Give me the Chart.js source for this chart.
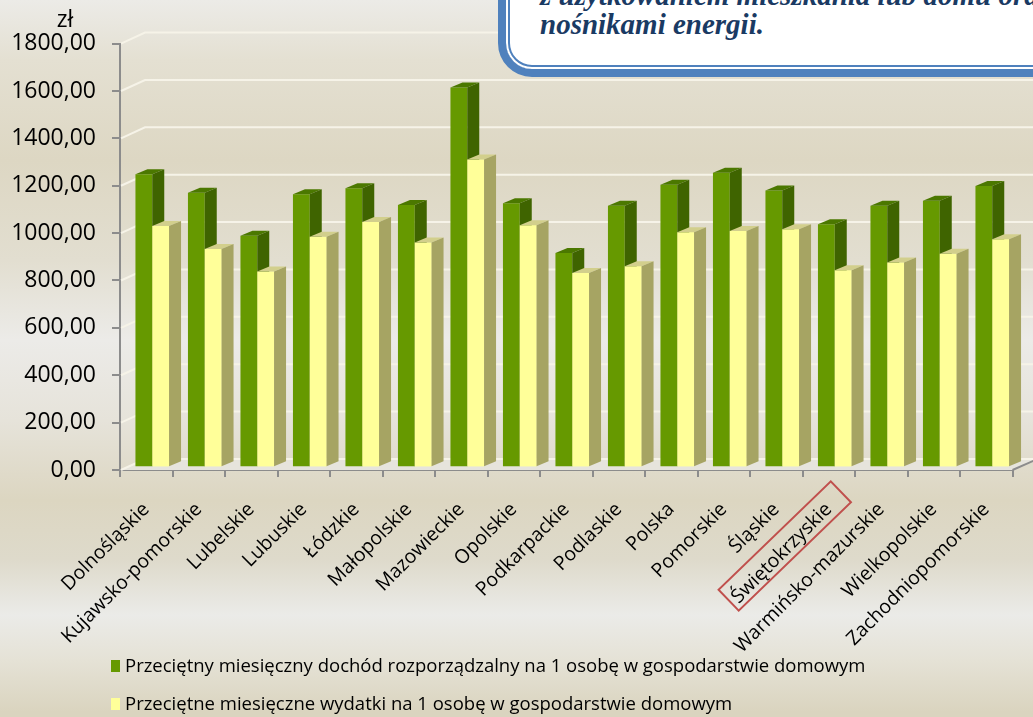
<!DOCTYPE html>
<html>
<head>
<meta charset="utf-8">
<script src="https://cdn.jsdelivr.net/npm/chart.js@4.4.0/dist/chart.umd.min.js"></script>
<style>
    html, body { margin: 0; padding: 0; }
    body {
        width: 1033px; height: 717px; overflow: hidden; position: relative;
        font-family: 'Open Sans', sans-serif;
        background: linear-gradient(to bottom,
            #ecebe7 0px, #e4e0d2 60px, #ddd7c3 160px, #e2ded0 260px, #ecebe8 340px,
            #e6e3da 420px, #dcd6c1 500px, #dedacb 560px, #ebebe8 615px, #e5e2d6 660px, #dad4bf 712px);
    }
    #chart { position: absolute; left: 0; top: 0; }
    .callout {
        position: absolute; left: 498px; top: -60px; width: 620px; height: 137px;
        box-sizing: border-box; border: 8px solid #4f81bd; border-radius: 34px;
        background: #fff; box-shadow: inset 0 0 0 2px #fff, inset 0 0 0 4px #4f81bd;
    }
    .callout div {
        position: absolute; left: 34px; white-space: nowrap; line-height: 1;
        font-family: 'Liberation Serif', serif; font-weight: bold; font-style: italic;
        font-size: 29px; color: #1a3a63;
    }
    .legend { position: absolute; left: 111px; font-size: 18.5px; line-height: 1; color: #000; white-space: nowrap; }
    .legend span { display: inline-block; width: 9px; height: 12px; margin-right: 5px; vertical-align: 0px; }
</style>
</head>
<body>
<canvas id="chart" width="1033" height="717"></canvas>
<div class="callout">
    <div style="top: 33px;">z użytkowaniem mieszkania lub domu oraz</div>
    <div style="top: 62px;">nośnikami energii.</div>
</div>
<div class="legend" style="top: 656px;"><span style="background:#669900"></span>Przeciętny miesięczny dochód rozporządzalny na 1 osobę w gospodarstwie domowym</div>
<div class="legend" style="top: 694px;"><span style="background:#ffff99"></span>Przeciętne miesięczne wydatki na 1 osobę w gospodarstwie domowym</div>
<script>
const regions = ['Dolnośląskie', 'Kujawsko-pomorskie', 'Lubelskie', 'Lubuskie', 'Łódzkie', 'Małopolskie',
    'Mazowieckie', 'Opolskie', 'Podkarpackie', 'Podlaskie', 'Polska', 'Pomorskie', 'Śląskie',
    'Świętokrzyskie', 'Warmińsko-mazurskie', 'Wielkopolskie', 'Zachodniopomorskie'];
const incomeLabel = 'Przeciętny miesięczny dochód rozporządzalny na 1 osobę w gospodarstwie domowym';
const spendLabel = 'Przeciętne miesięczne wydatki na 1 osobę w gospodarstwie domowym';
const income = [1237, 1159, 977, 1153, 1178, 1107, 1603, 1115, 905, 1104, 1193, 1243, 1169, 1026, 1104, 1125, 1187];
const spending = [1019, 922, 827, 973, 1036, 949, 1299, 1022, 820, 849, 992, 998, 1005, 832, 865, 901, 963];
const yMin = 0, yMax = 1800, yStep = 200;
const markedRegion = 'Świętokrzyskie';

// 3D look: back wall offset, bar position in depth, bar depth
const WALL_X = 25, WALL_Y = -11;
const BAR_X = 6, BAR_Y = -2.7;
const DEPTH_X = 12, DEPTH_Y = -5;
const LABEL_FONT = "'Open Sans', sans-serif";

function drawBarFaces(ctx, el, ds) {
    const p = el.getProps(['x', 'y', 'base', 'width'], true);
    const l = p.x - p.width / 2, r = p.x + p.width / 2;
    ctx.fillStyle = ds.topColor;
    ctx.beginPath();
    ctx.moveTo(l, p.y);
    ctx.lineTo(r, p.y);
    ctx.lineTo(r + DEPTH_X, p.y + DEPTH_Y);
    ctx.lineTo(l + DEPTH_X, p.y + DEPTH_Y);
    ctx.closePath();
    ctx.fill();
    ctx.fillStyle = ds.sideColor;
    ctx.beginPath();
    ctx.moveTo(r, p.y);
    ctx.lineTo(r + DEPTH_X, p.y + DEPTH_Y);
    ctx.lineTo(r + DEPTH_X, p.base + DEPTH_Y);
    ctx.lineTo(r, p.base);
    ctx.closePath();
    ctx.fill();
}

const plotLook = {
    id: 'plotLook',
    beforeDatasetsDraw(chart) {
        const ctx = chart.ctx;
        const area = chart.chartArea;
        const yScale = chart.scales.y;
        ctx.save();
        // floor
        ctx.fillStyle = '#e6e4dc';
        ctx.beginPath();
        ctx.moveTo(area.left, area.bottom);
        ctx.lineTo(area.right, area.bottom);
        ctx.lineTo(area.right + WALL_X, area.bottom + WALL_Y);
        ctx.lineTo(area.left + WALL_X, area.bottom + WALL_Y);
        ctx.closePath();
        ctx.fill();
        ctx.strokeStyle = '#8c8c8c';
        ctx.lineWidth = 2;
        ctx.beginPath();
        ctx.moveTo(area.right, area.bottom);
        ctx.lineTo(area.right + WALL_X, area.bottom + WALL_Y);
        ctx.stroke();
        // gridlines on side and back wall
        ctx.strokeStyle = '#f6f3e8';
        ctx.lineWidth = 2;
        yScale.ticks.forEach(t => {
            const y = yScale.getPixelForValue(t.value);
            ctx.beginPath();
            ctx.moveTo(area.left + 1, y);
            ctx.lineTo(area.left + WALL_X, y + WALL_Y);
            ctx.lineTo(area.right + WALL_X + 40, y + WALL_Y);
            ctx.stroke();
        });
        ctx.restore();
        ctx.save();
        ctx.translate(BAR_X, BAR_Y);
    },
    afterDatasetsDraw(chart) {
        const ctx = chart.ctx;
        // per category: first series faces, then the second series in front of them
        regions.forEach((_, j) => {
            chart.data.datasets.forEach((ds, i) => {
                const el = chart.getDatasetMeta(i).data[j];
                if (i > 0) el.draw(ctx);
                drawBarFaces(ctx, el, ds);
            });
        });
        ctx.restore();
    },
    afterDraw(chart) {
        const ctx = chart.ctx;
        const xScale = chart.scales.x;
        ctx.save();
        ctx.fillStyle = '#000';
        ctx.font = '23px ' + LABEL_FONT;
        ctx.textAlign = 'center';
        ctx.fillText('zł', 65, 27);
        // red frame round one region label
        const cx = xScale.getPixelForValue(regions.indexOf(markedRegion)) - 44;
        const cy = xScale.top + 76;
        ctx.translate(cx, cy);
        ctx.rotate(-44 * Math.PI / 180);
        ctx.strokeStyle = '#c0504d';
        ctx.lineWidth = 2;
        ctx.strokeRect(-78, -14.5, 156, 29);
        ctx.restore();
    }
};

new Chart(document.getElementById('chart'), {
    type: 'bar',
    data: {
        labels: regions,
        datasets: [
            { label: incomeLabel, data: income, backgroundColor: '#669900', topColor: '#4b7800', sideColor: '#3f6400', clip: false },
            { label: spendLabel, data: spending, backgroundColor: '#ffff99', topColor: '#d2cf8c', sideColor: '#a6a463', clip: false }
        ]
    },
    options: {
        responsive: false,
        animation: false,
        devicePixelRatio: 1,
        layout: { padding: { top: 43.6, right: 20.5, left: 0, bottom: 0 } },
        datasets: { bar: { categoryPercentage: 0.64, barPercentage: 1 } },
        plugins: { legend: { display: false }, tooltip: { enabled: false } },
        scales: {
            x: {
                grid: { offset: true, drawOnChartArea: false, tickLength: 7, color: '#8c8c8c', lineWidth: 2 },
                border: { color: '#8c8c8c', width: 2 },
                ticks: { autoSkip: false, minRotation: 45, maxRotation: 45, padding: 21, color: '#000',
                    font: { family: LABEL_FONT, size: 19.5 } },
                afterFit: s => { s.height = 247; }
            },
            y: {
                min: yMin, max: yMax,
                grid: { drawOnChartArea: false, tickLength: 8, color: '#8c8c8c', lineWidth: 2 },
                border: { color: '#8c8c8c', width: 2 },
                ticks: { stepSize: yStep, padding: 16, color: '#000', font: { family: LABEL_FONT, size: 23 },
                    callback: v => v.toFixed(2).replace('.', ',') },
                afterFit: s => { s.width = 120; }
            }
        }
    },
    plugins: [plotLook]
});
</script>
</body>
</html>
